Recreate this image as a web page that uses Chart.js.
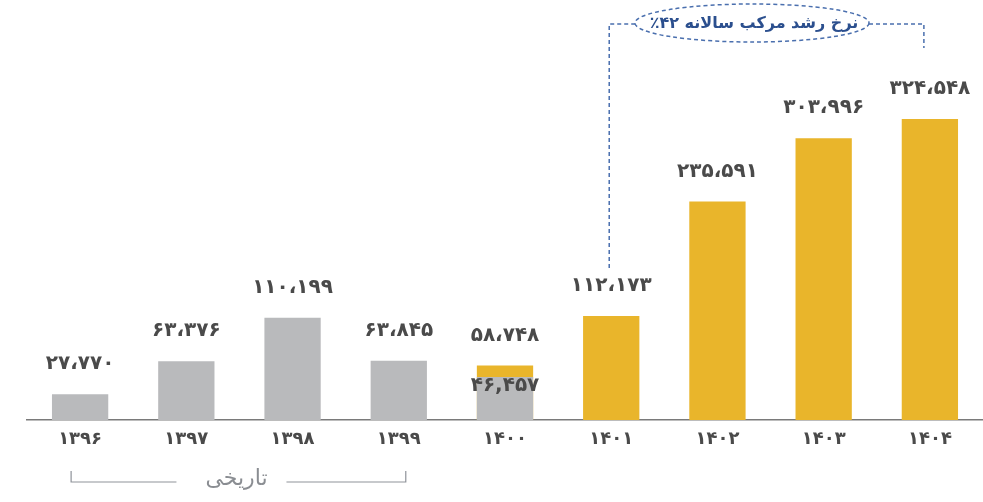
<!DOCTYPE html>
<html lang="fa">
<head>
<meta charset="UTF-8">
<title>Chart</title>
<script src="https://cdn.jsdelivr.net/npm/chart.js@4.4.0/dist/chart.umd.min.js"></script>
<style>
  body { margin: 0; background: #fff; }
  #wrap { width: 983px; height: 502px; }
</style>
</head>
<body>
<div id="wrap"><canvas id="myChart" width="983" height="502"></canvas></div>
<script>
// years (x axis)
const years = ['۱۳۹۶', '۱۳۹۷', '۱۳۹۸', '۱۳۹۹', '۱۴۰۰', '۱۴۰۱', '۱۴۰۲', '۱۴۰۳', '۱۴۰۴'];
// historical (gray) and forecast (gold)
const historical = [27770, 63376, 110199, 63845, 46457, null, null, null, null];
const forecast = [null, null, null, null, 58748, 112173, 235591, 303996, 324548];
const cagrText = 'نرخ رشد مرکب سالانه ۴۲٪';
const historyText = 'تاریخی';

const faDigits = '۰۱۲۳۴۵۶۷۸۹';
function toFa(n, sep) {
    const s = String(n).replace(/\B(?=(\d{3})+(?!\d))/g, sep);
    return s.replace(/\d/g, d => faDigits[+d]);
}

const FONT = '"DejaVu Sans", sans-serif';

const labelsPlugin = {
    id: 'barLabels',
    afterDatasetsDraw(chart) {
        const ctx = chart.ctx;
        const gray = chart.getDatasetMeta(0);
        const gold = chart.getDatasetMeta(1);
        ctx.save();
        ctx.fillStyle = '#4a4a4a';
        ctx.font = 'bold 20px ' + FONT;
        ctx.textAlign = 'center';
        ctx.textBaseline = 'middle';
        for (let i = 0; i < years.length; i++) {
            if (forecast[i] != null) {
                const el = gold.data[i];
                ctx.fillText(toFa(forecast[i], '،'), el.x, el.y - 30);
                if (historical[i] != null) {
                    const g = gray.data[i];
                    ctx.fillText(toFa(historical[i], ','), g.x, g.y + 9);
                }
            } else if (historical[i] != null) {
                const el = gray.data[i];
                ctx.fillText(toFa(historical[i], '،'), el.x, el.y - 30);
            }
        }
        ctx.restore();
    }
};

const notesPlugin = {
    id: 'notes',
    afterDraw(chart) {
        const ctx = chart.ctx;
        const x = chart.scales.x;
        // CAGR dashed bracket
        const xl = x.getPixelForValue(5) - 2;
        const xr = x.getPixelForValue(8) - 6;
        const yTop = 24;
        const cx = 752, rx = 117, ry = 19;
        ctx.save();
        ctx.strokeStyle = '#4a6fae';
        ctx.lineWidth = 1.5;
        ctx.setLineDash([4, 3]);
        ctx.beginPath();
        ctx.moveTo(xl, 268);
        ctx.lineTo(xl, yTop);
        ctx.lineTo(cx - rx, yTop);
        ctx.moveTo(cx + rx, yTop);
        ctx.lineTo(xr, yTop);
        ctx.lineTo(xr, 48);
        ctx.stroke();
        ctx.beginPath();
        ctx.ellipse(cx, yTop - 1, rx, ry, 0, 0, Math.PI * 2);
        ctx.stroke();
        ctx.setLineDash([]);
        ctx.fillStyle = '#2b4f8e';
        ctx.font = 'bold 16px ' + FONT;
        ctx.textAlign = 'center';
        ctx.textBaseline = 'middle';
        ctx.direction = 'rtl';
        ctx.fillText(cagrText, cx + 2, yTop);
        ctx.restore();

        // history bracket under 1396..1399
        const hl = x.getPixelForValue(0) - 9;
        const hr = x.getPixelForValue(3) + 7;
        const hc = (hl + hr) / 2;
        ctx.save();
        ctx.strokeStyle = '#8f939a';
        ctx.lineWidth = 1.2;
        ctx.beginPath();
        ctx.moveTo(hl, 471);
        ctx.lineTo(hl, 482);
        ctx.lineTo(hc - 62, 482);
        ctx.moveTo(hc + 48, 482);
        ctx.lineTo(hr, 482);
        ctx.lineTo(hr, 471);
        ctx.stroke();
        ctx.fillStyle = '#8a8d92';
        ctx.font = '22px ' + FONT;
        ctx.textAlign = 'center';
        ctx.textBaseline = 'middle';
        ctx.direction = 'rtl';
        ctx.fillText(historyText, hc - 2, 479);
        ctx.restore();
    }
};

const ctx = document.getElementById('myChart').getContext('2d');
const myChart = new Chart(ctx, {
    type: 'bar',
    data: {
        labels: years,
        datasets: [{
            label: 'historical',
            data: historical,
            backgroundColor: '#b9babc'
        }, {
            label: 'forecast',
            data: forecast,
            backgroundColor: '#e9b52b'
        }]
    },
    options: {
        responsive: false,
        animation: false,
        layout: { padding: { left: 27, right: 0, top: 0, bottom: 0 } },
        categoryPercentage: 1,
        barPercentage: 0.53,
        plugins: {
            legend: { display: false },
            tooltip: { enabled: false }
        },
        scales: {
            x: {
                stacked: true,
                grid: { display: false, drawTicks: false },
                border: { display: true, color: '#7a7a7a', width: 1.5 },
                ticks: {
                    color: '#4a4a4a',
                    padding: 9,
                    font: { family: FONT, size: 18, weight: 'bold' }
                },
                afterFit(scale) { scale.height = 82; }
            },
            y: {
                stacked: false,
                display: false,
                min: 0,
                max: 453000
            }
        }
    },
    plugins: [labelsPlugin, notesPlugin]
});
</script>
</body>
</html>
